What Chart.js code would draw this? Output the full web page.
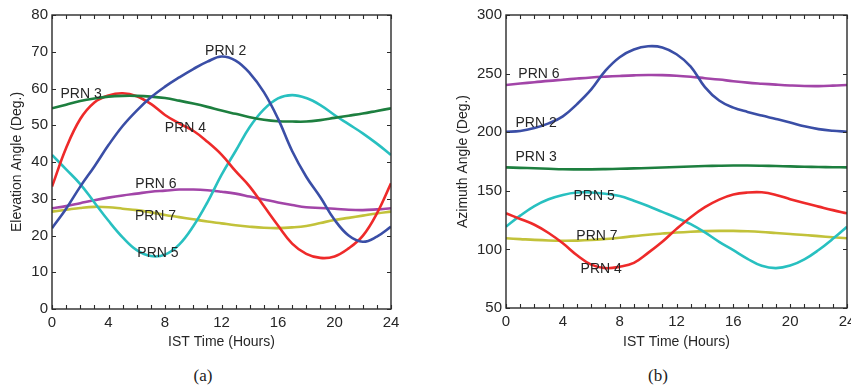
<!DOCTYPE html>
<html>
<head>
<meta charset="utf-8">
<script src="https://cdn.jsdelivr.net/npm/chart.js@4/dist/chart.umd.min.js"></script>
<style>
  html, body { margin:0; padding:0; background:#fff; width:851px; height:391px; overflow:hidden; position:relative; }
  #c1 { position:absolute; left:0; top:0; }
  #c2 { position:absolute; left:425px; top:0; }
  .cap { position:absolute; top:366px; font-family:"Liberation Serif","Times New Roman",serif; font-size:17px; color:#222; width:40px; text-align:center; }
</style>
</head>
<body>
<canvas id="c1" width="425" height="360"></canvas>
<canvas id="c2" width="460" height="360"></canvas>
<div class="cap" style="left:183px">(a)</div>
<div class="cap" style="left:638px">(b)</div>
<script>
// ---- Data ----
const hours = [0,1,2,3,4,5,6,7,8,9,10,11,12,13,14,15,16,17,18,19,20,21,22,23,24];
const seriesNames = ['PRN 2','PRN 3','PRN 4','PRN 5','PRN 6','PRN 7'];

// Elevation angle (deg)
const elevPRN2 = [22,27.3,33.3,38.8,44.6,49.8,54,57.6,60.5,63,65.3,67.3,68.7,67.6,64.2,59,51.8,43,36,30.4,24.3,20,18.3,19.7,22.4];
const elevPRN3 = [54.6,55.6,56.6,57.3,57.8,58,58,57.8,57.4,56.7,55.9,55,54,53.1,52.2,51.5,51.1,51,51,51.4,52,52.6,53.2,53.9,54.6];
const elevPRN4 = [33.3,43.8,51.7,56.2,58.1,58.7,57.9,55.8,52.8,50.5,48.5,45.5,42,37.5,33.3,28,22.7,17.8,15,13.9,14.3,16.5,19.9,26,34.2];
const elevPRN5 = [41.9,38,34,29,24,19.5,16,14.4,14.8,17.5,22.5,29,36.5,43,49.5,54.3,57.3,58.2,57.4,55.5,52.8,50.3,47.8,45,41.9];
const elevPRN6 = [27.4,28,28.8,29.6,30.3,30.9,31.4,31.9,32.2,32.5,32.5,32.3,31.9,31.4,30.6,29.8,29,28.3,27.7,27.5,27.3,27,26.9,27.1,27.4];
const elevPRN7 = [26.5,27,27.5,27.8,27.7,27.3,26.9,26.3,25.6,25,24.4,23.8,23.3,22.8,22.4,22.1,22,22.2,22.6,23.4,24.2,24.8,25.4,26,26.5];

// Azimuth angle (deg)
const azPRN2 = [200.4,201,203.5,207.5,213.5,224,236.5,252.5,264,270.5,273.3,272.3,266.5,256,238.5,227,221,217.3,214.2,211.3,208.3,205,202.6,201.2,200.4];
const azPRN3 = [170,169.6,169.2,168.8,168.4,168.3,168.3,168.5,168.8,169.1,169.5,169.9,170.3,170.7,171.1,171.4,171.6,171.6,171.4,171.1,170.8,170.5,170.3,170.1,170];
const azPRN4 = [130.8,126,121,114,105.2,95,87,84,85.2,88.5,97,106.5,117.5,127.5,136,142.5,146.8,148.5,148.7,146.5,142.8,139.5,136.5,133.5,130.8];
const azPRN5 = [119.4,128.8,137,142.8,146.5,148.5,148.6,147.5,145.5,141.5,137,132,127,121.5,114.5,106.5,99.3,92,86,84,86.2,91.5,99.5,109,119.4];
const azPRN6 = [240.3,241.5,242.6,243.8,244.8,245.8,246.7,247.4,248,248.5,248.8,248.7,248.2,247.3,246.1,244.9,243.5,242.3,241.4,240.6,239.9,239.4,239.3,239.7,240.3];
const azPRN7 = [109.5,108.8,108.1,107.6,107.4,107.5,108,108.9,110,111.3,112.5,113.5,114.4,115.1,115.6,115.8,115.8,115.5,114.9,114,113.1,112.3,111.3,110.4,109.5];

// Annotation label positions [hour, value]
const elevLabelPos = [[12.3,70.2],[2.06,58.4],[9.45,49.3],[7.5,15.3],[7.36,33.9],[7.33,25.4]];
const azLabelPos   = [[2.12,207.6],[2.12,179],[6.7,83],[6.2,145.8],[2.32,249.7],[6.4,111.4]];

// Tick settings
const xTickStep = 4;
const elevRange = [0, 80, 10];
const azRange = [50, 300, 50];

// ---- Styles ----
const colors = ['#3a4ea6','#1d7f3f','#ee2a2a','#28c0c0','#a245a8','#c2c23a'];
const FONT = '"Liberation Sans", Arial, Helvetica, sans-serif';
const TXT = '#262626';

function makeDatasets(arrs) {
  return arrs.map((a, i) => ({
    label: seriesNames[i],
    data: hours.map((h, k) => ({x: h, y: a[k]})),
    borderColor: colors[i],
    borderWidth: 2.6,
    pointRadius: 0,
    tension: 0.4,
    fill: false
  }));
}

const framePlugin = {
  id: 'frame',
  afterDatasetsDraw(chart, args, opts) {
    const {ctx, chartArea: a, scales} = chart;
    const xs = scales.x, ys = scales.y;
    ctx.save();
    ctx.strokeStyle = '#2a2a2a';
    ctx.lineWidth = 1.4;
    ctx.strokeRect(a.left, a.top, a.right - a.left, a.bottom - a.top);
    ctx.lineWidth = 1.1;
    ctx.beginPath();
    const tl = 4;
    for (let h = xs.min; h <= xs.max; h += 1) {
      const px = Math.round(xs.getPixelForValue(h)) + 0.5;
      ctx.moveTo(px, a.bottom); ctx.lineTo(px, a.bottom - tl);
      ctx.moveTo(px, a.top); ctx.lineTo(px, a.top + tl);
    }
    const r = opts.yr;
    for (let v = r[0]; v <= r[1]; v += r[2]) {
      const py = Math.round(ys.getPixelForValue(v)) + 0.5;
      ctx.moveTo(a.left, py); ctx.lineTo(a.left + tl, py);
      ctx.moveTo(a.right, py); ctx.lineTo(a.right - tl, py);
    }
    ctx.stroke();
    // annotation labels
    ctx.fillStyle = TXT;
    ctx.font = '14px ' + FONT;
    ctx.textAlign = 'center';
    ctx.textBaseline = 'middle';
    opts.labels.forEach((p, i) => {
      ctx.fillText(seriesNames[i], xs.getPixelForValue(p[0]), ys.getPixelForValue(p[1]));
    });
    ctx.restore();
  }
};

function makeChart(id, arrs, yr, yTitle, yWidth, rightPad, xHeight, titlePadY, labels) {
  return new Chart(document.getElementById(id), {
    type: 'line',
    data: { datasets: makeDatasets(arrs) },
    options: {
      responsive: false,
      animation: false,
      layout: { autoPadding: false, padding: { top: 15, right: rightPad, left: 0, bottom: 0 } },
      plugins: { legend: { display: false }, tooltip: { enabled: false }, frame: { yr: yr, labels: labels } },
      scales: {
        x: {
          type: 'linear', min: 0, max: 24,
          grid: { display: false, drawTicks: false },
          border: { display: false },
          ticks: { stepSize: xTickStep, color: TXT, font: { family: FONT, size: 15 }, padding: 5, maxRotation: 0 },
          title: { display: true, text: 'IST Time (Hours)', color: TXT, font: { family: FONT, size: 14 }, padding: { top: 0, bottom: 9 } },
          afterFit(s) { s.height = xHeight; }
        },
        y: {
          type: 'linear', min: yr[0], max: yr[1],
          grid: { display: false, drawTicks: false },
          border: { display: false },
          ticks: { stepSize: yr[2], color: TXT, font: { family: FONT, size: 15 }, padding: 4 },
          title: { display: true, text: yTitle, color: TXT, font: { family: FONT, size: 14 }, padding: { top: titlePadY, bottom: 0 } },
          afterFit(s) { s.width = yWidth; }
        }
      }
    },
    plugins: [framePlugin]
  });
}

makeChart('c1', [elevPRN2, elevPRN3, elevPRN4, elevPRN5, elevPRN6, elevPRN7], elevRange,
  'Elevation Angle (Deg.)', 52, 34, 51, 9.2, elevLabelPos);
makeChart('c2', [azPRN2, azPRN3, azPRN4, azPRN5, azPRN6, azPRN7], azRange,
  'Azimuth Angle (Deg.)', 81, 38, 52, 30.2, azLabelPos);
</script>
</body>
</html>
